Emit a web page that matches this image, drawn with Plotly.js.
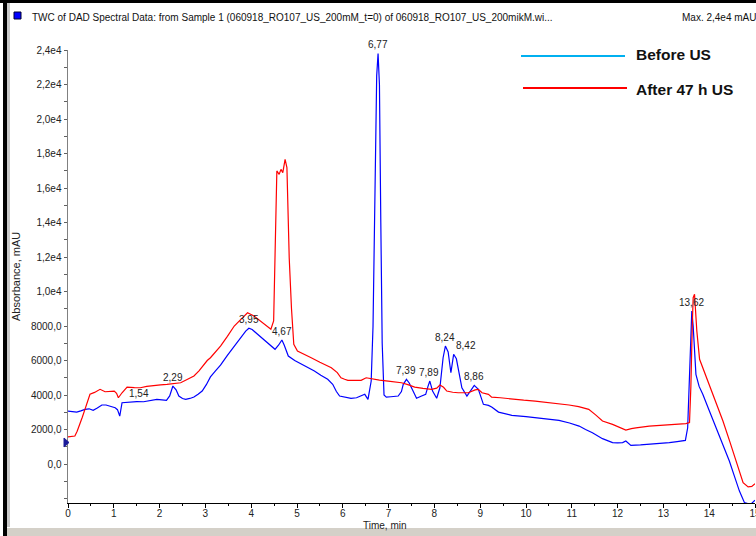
<!DOCTYPE html>
<html>
<head>
<meta charset="utf-8">
<script src="https://cdn.plot.ly/plotly-3.0.1.min.js"></script>
<style>
html,body{margin:0;padding:0;background:#fff;}
#chart{width:756px;height:536px;}
</style>
</head>
<body>
<div id="chart"></div>
<script>
// ---- Data (time in min, absorbance in mAU) ----
const blueTime = [0.00,0.10,0.19,0.28,0.37,0.46,0.55,0.64,0.74,0.83,0.92,1.03,1.08,1.13,1.18,1.27,1.36,1.50,1.65,1.80,1.94,2.05,2.15,2.22,2.29,2.36,2.42,2.50,2.57,2.66,2.75,2.84,2.93,3.02,3.11,3.22,3.33,3.48,3.63,3.78,3.88,3.95,4.02,4.14,4.30,4.45,4.52,4.60,4.67,4.72,4.81,4.95,5.09,5.23,5.38,5.52,5.67,5.78,5.86,5.93,6.05,6.18,6.30,6.40,6.48,6.55,6.62,6.66,6.70,6.74,6.77,6.80,6.83,6.86,6.90,6.95,7.05,7.21,7.28,7.32,7.39,7.45,7.50,7.61,7.72,7.81,7.86,7.90,7.96,8.05,8.12,8.19,8.24,8.30,8.36,8.42,8.48,8.52,8.60,8.71,8.78,8.87,8.96,9.02,9.07,9.18,9.25,9.40,9.55,9.69,10.00,10.28,10.50,10.72,10.95,11.16,11.30,11.45,11.67,11.89,12.00,12.11,12.18,12.29,12.50,12.69,12.90,13.13,13.30,13.48,13.53,13.57,13.60,13.62,13.65,13.68,13.71,13.78,13.86,14.00,14.15,14.30,14.44,14.55,14.66,14.77,14.85,14.92,15.00];
const blueAbs = [3070,3040,3010,3080,3170,3200,3110,3250,3420,3420,3360,3260,3150,2780,3550,3580,3610,3620,3610,3680,3750,3720,3690,3950,4520,4300,3940,3800,3750,3800,3880,4050,4230,4600,5050,5400,5730,6300,6840,7350,7700,7870,7800,7520,7150,6800,6650,6900,7190,6900,6260,6000,5810,5600,5390,5150,4910,4620,4200,3940,3870,3810,3840,3940,4040,3750,4810,8000,16000,22500,23800,22000,14000,7000,4000,3880,3900,3940,4200,4620,4910,4700,4420,3810,3940,4040,4500,4810,4230,3810,4420,6160,6840,6500,5290,6360,6100,5580,4420,3940,4230,4560,4330,3800,3460,3400,3300,3010,2900,2820,2750,2680,2600,2530,2380,2200,2000,1810,1470,1240,1230,1240,1330,1080,1110,1140,1190,1240,1300,1370,2100,4810,7500,8870,8000,6740,5200,4500,4040,3100,2100,1100,170,-700,-1570,-2240,-2300,-2300,-2100];

const redTime = [0.00,0.15,0.20,0.26,0.31,0.37,0.43,0.48,0.58,0.70,0.81,0.90,1.01,1.06,1.10,1.18,1.29,1.45,1.58,1.72,1.87,2.02,2.16,2.30,2.46,2.60,2.75,2.86,2.97,3.04,3.11,3.22,3.33,3.48,3.63,3.78,3.92,4.06,4.20,4.35,4.43,4.49,4.52,4.56,4.61,4.65,4.69,4.74,4.78,4.83,4.88,4.93,5.01,5.15,5.31,5.50,5.75,5.88,5.96,6.04,6.11,6.25,6.40,6.51,6.66,6.80,6.99,7.15,7.28,7.42,7.57,7.75,7.94,8.05,8.12,8.20,8.27,8.40,8.52,8.74,8.89,8.96,9.04,9.18,9.25,9.44,9.69,9.95,10.20,10.55,10.94,11.15,11.37,11.52,11.67,11.89,12.05,12.18,12.30,12.40,12.69,12.90,13.13,13.35,13.49,13.57,13.60,13.63,13.65,13.68,13.70,13.73,13.79,13.90,14.01,14.15,14.30,14.45,14.59,14.67,14.74,14.85,14.93,15.00];
const redAbs = [1570,1620,1900,2300,2700,3170,3700,4040,4150,4330,4190,4220,4230,4100,3840,4130,4460,4430,4420,4500,4560,4590,4620,4680,4710,4900,5100,5400,5780,6000,6160,6500,6840,7400,8000,8400,8770,8580,8300,8000,7810,8290,12930,16990,16790,17080,16890,17660,17180,11960,9000,6940,6550,6350,6160,5900,5580,5300,5000,4910,4850,4850,4850,5000,4910,4860,4810,4760,4710,4600,4460,4380,4330,4400,4580,4450,4230,4160,4130,4130,4300,4330,4130,4040,3880,3840,3750,3700,3650,3550,3420,3330,3170,2850,2490,2300,2100,1970,2050,2100,2200,2230,2260,2300,2340,2400,4500,8000,9640,9840,8800,7710,6070,5300,4620,3600,2490,1300,80,-600,-1080,-1330,-1300,-1140];

const peakTimes  = [1.54, 2.29, 3.95, 4.67, 6.77, 7.39, 7.89, 8.24, 8.42, 8.86, 13.62];
const peakLabels = ["1,54","2,29","3,95","4,67","6,77","7,39","7,89","8,24","8,42","8,86","13,62"];

const yTickVals = [0, 2000, 4000, 6000, 8000, 10000, 12000, 14000, 16000, 18000, 20000, 22000, 24000];
const yTickText = ["0,0","2000,0","4000,0","6000,0","8000,0","1,0e4","1,2e4","1,4e4","1,6e4","1,8e4","2,0e4","2,2e4","2,4e4"];

const seriesNames = ["Before US", "After 47 h US"];
const headerText = "TWC of DAD Spectral Data: from Sample 1 (060918_RO107_US_200mM_t=0) of 060918_RO107_US_200mikM.wi...";
const maxText = "Max. 2,4e4 mAU";

// ---- Layout helpers (pixel -> paper) ----
const W = 756, H = 536, ML = 68, MR = 1, MT = 50, MB = 33;
const PW = W - ML - MR, PH = H - MT - MB;
const px = x => (x - ML) / PW;
const py = y => (H - MB - y) / PH;
const FONT = "Liberation Sans, Arial, sans-serif";

function nearestValue(times, vals, t) {
  let best = 0, bd = Infinity;
  times.forEach((tt, i) => { const d = Math.abs(tt - t); if (d < bd) { bd = d; best = i; } });
  let m = vals[best];
  for (let k = Math.max(0, best - 1); k <= Math.min(vals.length - 1, best + 1); k++) m = Math.max(m, vals[k]);
  return m;
}

const traces = [
  {x: blueTime, y: blueAbs, type: 'scatter', mode: 'lines', name: seriesNames[0],
   line: {color: '#0000ff', width: 1.2}, hoverinfo: 'skip'},
  {x: redTime, y: redAbs, type: 'scatter', mode: 'lines', name: seriesNames[1],
   line: {color: '#ff0000', width: 1.2}, hoverinfo: 'skip'}
];

const annotations = peakTimes.map((t, i) => ({
  x: t, y: nearestValue(blueTime, blueAbs, t), xref: 'x', yref: 'y',
  text: peakLabels[i], showarrow: false, yanchor: 'bottom', xanchor: 'center',
  yshift: 1, xshift: peakLabels[i] === "8,42" ? 12 : 0,
  font: {family: FONT, size: 10, color: '#222'}
}));

annotations.push(
  {xref: 'paper', yref: 'paper', x: px(30), y: py(17), xanchor: 'left', yanchor: 'middle',
   text: headerText, showarrow: false, font: {family: FONT, size: 10, color: '#111'}},
  {xref: 'paper', yref: 'paper', x: px(758), y: py(17), xanchor: 'right', yanchor: 'middle',
   text: maxText, showarrow: false, font: {family: FONT, size: 10, color: '#111'}},
  {xref: 'paper', yref: 'paper', x: px(16), y: py(276), xanchor: 'center', yanchor: 'middle',
   textangle: -90, text: 'Absorbance, mAU', showarrow: false, font: {family: FONT, size: 11, color: '#222'}},
  {xref: 'paper', yref: 'paper', x: px(385), y: py(525), xanchor: 'center', yanchor: 'middle',
   text: 'Time, min', showarrow: false, font: {family: FONT, size: 10, color: '#222'}},
  {xref: 'paper', yref: 'paper', x: px(634), y: py(55), xanchor: 'left', yanchor: 'middle',
   text: '<b>' + seriesNames[0] + '</b>', showarrow: false, font: {family: FONT, size: 15.5, color: '#111'}},
  {xref: 'paper', yref: 'paper', x: px(634), y: py(89), xanchor: 'left', yanchor: 'middle',
   text: '<b>' + seriesNames[1] + '</b>', showarrow: false, font: {family: FONT, size: 15.5, color: '#111'}}
);

const shapes = [
  {type: 'line', xref: 'paper', yref: 'paper', x0: px(521), x1: px(625), y0: py(56), y1: py(56),
   line: {color: '#00b0f0', width: 2}},
  {type: 'line', xref: 'paper', yref: 'paper', x0: px(523), x1: px(627), y0: py(88), y1: py(88),
   line: {color: '#ff0000', width: 2}},
  {type: 'rect', xref: 'paper', yref: 'paper', x0: px(14), x1: px(21), y0: py(19), y1: py(12),
   fillcolor: '#0000ff', line: {color: '#000033', width: 1}},
  {type: 'rect', xref: 'paper', yref: 'paper', x0: px(0), x1: px(756), y0: py(3), y1: py(0),
   fillcolor: '#000', line: {width: 0}},
  {type: 'rect', xref: 'paper', yref: 'paper', x0: px(3), x1: px(7), y0: py(536), y1: py(0),
   fillcolor: '#000', line: {width: 0}},
  {type: 'rect', xref: 'paper', yref: 'paper', x0: px(7), x1: px(10), y0: py(527), y1: py(3),
   fillcolor: '#c8c8c8', line: {width: 0}},
  {type: 'rect', xref: 'paper', yref: 'paper', x0: px(7), x1: px(756), y0: py(536), y1: py(528),
   fillcolor: '#d4d0c8', line: {width: 0}},
  {type: 'path', xref: 'paper', yref: 'paper',
   path: `M ${px(64)} ${py(438)} L ${px(69)} ${py(442.5)} L ${px(64)} ${py(447)} Z`,
   fillcolor: '#1a1a99', line: {color: '#1a1a99', width: 1}}
];

const layout = {
  width: W, height: H,
  margin: {l: ML, r: MR, t: MT, b: MB, pad: 0},
  paper_bgcolor: '#ffffff', plot_bgcolor: '#ffffff',
  showlegend: false,
  font: {family: FONT, size: 10, color: '#222'},
  xaxis: {
    range: [0, 15], tickmode: 'linear', tick0: 0, dtick: 1,
    showgrid: false, zeroline: false, showline: true, linecolor: '#000', linewidth: 1,
    ticks: 'outside', ticklen: 4, tickcolor: '#000', tickwidth: 1,
    ticklabeloverflow: 'allow', ticklabelstandoff: -3,
    tickfont: {family: FONT, size: 10, color: '#222'},
    minor: {dtick: 0.5, tick0: 0, ticks: 'outside', ticklen: 2, tickcolor: '#000', showgrid: false}
  },
  yaxis: {
    range: [-2260, 24000], tickmode: 'array', tickvals: yTickVals, ticktext: yTickText,
    showgrid: false, zeroline: false, showline: true, linecolor: '#808080', linewidth: 1.5,
    ticks: 'outside', ticklen: 3, tickcolor: '#606060', tickwidth: 1,
    tickfont: {family: FONT, size: 10, color: '#222'},
    minor: {dtick: 1000, tick0: 0, ticks: 'outside', ticklen: 3, tickcolor: '#606060', showgrid: false}
  },
  annotations: annotations,
  shapes: shapes
};

Plotly.newPlot('chart', traces, layout, {displayModeBar: false, staticPlot: true});
</script>
</body>
</html>
